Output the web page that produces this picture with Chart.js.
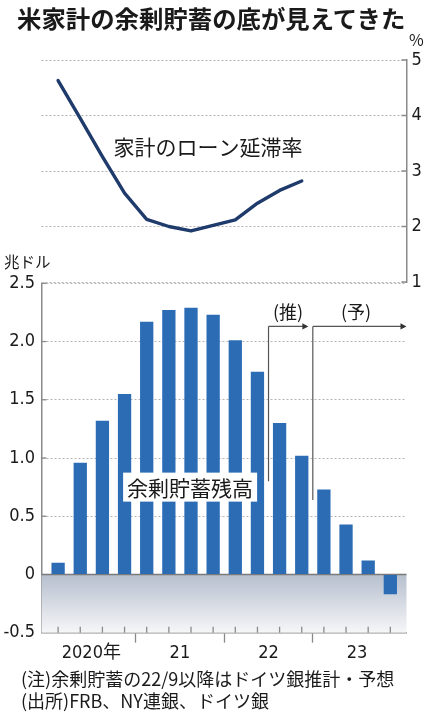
<!DOCTYPE html>
<html><head><meta charset="utf-8">
<script src="https://cdn.jsdelivr.net/npm/chart.js@4.4.0/dist/chart.umd.min.js"></script>
<style>
html,body{margin:0;padding:0;background:#fff;}
body{width:430px;height:720px;position:relative;overflow:hidden;font-family:'Noto Sans CJK JP',sans-serif;color:#1a1a1a;}
canvas{position:absolute;left:0;top:0;}
.t{position:absolute;white-space:nowrap;}
</style></head><body>
<canvas id="cb" width="430" height="720"></canvas>
<canvas id="ct" width="430" height="300"></canvas>
<div class="t" style="left:17px;top:4px;font-size:24.4px;font-weight:bold;line-height:28px;">米家計の余剰貯蓄の底が見えてきた</div>
<div class="t" style="left:409px;top:29px;font-size:16px;line-height:20px;">%</div>
<div class="t" style="left:4px;top:251px;font-size:15.5px;line-height:20px;">兆ドル</div>
<div class="t" style="left:21px;top:667px;font-size:18px;line-height:22px;">(注)余剰貯蓄の22/9以降はドイツ銀推計・予想<br>(出所)FRB、NY連銀、ドイツ銀</div>
<script>
// ---- data ----
const quarters = ['2020Q1','2020Q2','2020Q3','2020Q4','2021Q1','2021Q2','2021Q3','2021Q4','2022Q1','2022Q2','2022Q3','2022Q4','2023Q1','2023Q2','2023Q3','2023Q4'];
const excessSavings = [0.10, 0.96, 1.32, 1.55, 2.17, 2.27, 2.29, 2.23, 2.01, 1.74, 1.30, 1.02, 0.73, 0.43, 0.12, -0.17]; // 兆ドル
const delinquencyRate = [4.63, 3.95, 3.26, 2.60, 2.13, 2.00, 1.92, 2.02, 2.12, 2.42, 2.65, 2.82]; // %
const yearLabels = ['2020年','21','22','23'];
const yearLabelPos = [1.5, 5.5, 9.5, 13.5];
const yearBoundaryPos = [3.5, 7.5, 11.5];
const savingsTicks = [-0.5, 0, 0.5, 1.0, 1.5, 2.0, 2.5];
const rateTicks = [1, 2, 3, 4, 5];
const estimateStart = 9.5;   // 22/9 以降 推計
const forecastStart = 11.5;  // 23年以降 予想

// ---- styles ----
const NUM = "'Liberation Sans Narrow','DejaVu Sans Condensed','Noto Sans CJK JP',sans-serif";
const JP = "'Noto Sans CJK JP',sans-serif";
const TXT = '#1a1a1a';
const AXIS = '#8a8a8a';
const GRID = '#b4b4b4';
const xMin = -0.75, xMax = 15.73;

// ---- top chart: loan delinquency rate ----
const topPlugin = {
  id: 'topDeco',
  afterDatasetsDraw(chart) {
    const {ctx, chartArea: a, scales: {x, y}} = chart;
    ctx.save();
    ctx.strokeStyle = AXIS; ctx.lineWidth = 1.5;
    rateTicks.forEach(v => {
      const py = y.getPixelForValue(v);
      ctx.beginPath(); ctx.moveTo(a.right - 5, py); ctx.lineTo(a.right, py); ctx.stroke();
    });
    ctx.fillStyle = TXT;
    ctx.font = "21px " + JP;
    ctx.textAlign = 'center'; ctx.textBaseline = 'middle';
    ctx.fillText('家計のローン延滞率', x.getPixelForValue(6.77), y.getPixelForValue(3.44));
    ctx.restore();
  }
};
new Chart(document.getElementById('ct'), {
  type: 'line',
  data: { datasets: [{
    data: delinquencyRate.map((v, i) => ({x: i, y: v})),
    borderColor: '#1f3b6b', borderWidth: 3.4, pointRadius: 0, tension: 0,
    borderCapStyle: 'round', borderJoinStyle: 'round', fill: false
  }]},
  options: {
    responsive: false, animation: false, events: [],
    plugins: {legend: {display: false}, tooltip: {enabled: false}},
    layout: {padding: {left: 41.5, right: 0, top: 60, bottom: 18}},
    scales: {
      x: {type: 'linear', min: xMin, max: xMax, offset: false, display: false},
      y: {
        position: 'right', min: 1, max: 5,
        afterFit: s => { s.width = 23.5; },
        afterBuildTicks: s => { s.ticks = rateTicks.map(v => ({value: v})); },
        ticks: {font: {family: NUM, size: 18}, color: TXT, padding: 5},
        grid: {color: GRID, lineWidth: 1, drawTicks: false},
        border: {display: true, color: AXIS, width: 1.5, dash: [2, 2]}
      }
    }
  },
  plugins: [topPlugin]
});

// ---- bottom chart: excess savings ----
function arrowRight(ctx, x1, x2, y) {
  ctx.beginPath(); ctx.moveTo(x1, y); ctx.lineTo(x2 - 4, y); ctx.stroke();
  ctx.beginPath(); ctx.moveTo(x2, y); ctx.lineTo(x2 - 6, y - 3.2); ctx.lineTo(x2 - 6, y + 3.2); ctx.closePath(); ctx.fill();
}
const bottomPlugin = {
  id: 'bottomDeco',
  beforeDatasetsDraw(chart) {
    const {ctx, chartArea: a, scales: {y}} = chart;
    const y0 = y.getPixelForValue(0);
    ctx.save();
    const g = ctx.createLinearGradient(0, y0, 0, a.bottom);
    g.addColorStop(0, '#b6bfce');
    g.addColorStop(1, '#f6f6f8');
    ctx.fillStyle = g;
    ctx.fillRect(a.left, y0, a.right - a.left, a.bottom - y0);
    ctx.strokeStyle = '#7a7a7a'; ctx.lineWidth = 1.5;
    ctx.beginPath(); ctx.moveTo(a.left, y0); ctx.lineTo(a.right, y0); ctx.stroke();
    ctx.restore();
  },
  afterDatasetsDraw(chart) {
    const {ctx, chartArea: a, scales: {x, y}} = chart;
    ctx.save();
    // inner ticks
    ctx.strokeStyle = AXIS; ctx.lineWidth = 1.3;
    excessSavings.forEach((v, i) => {
      const px = x.getPixelForValue(i);
      ctx.beginPath(); ctx.moveTo(px, a.bottom - 6); ctx.lineTo(px, a.bottom); ctx.stroke();
    });
    savingsTicks.filter(v => v > 0).forEach(v => {
      const py = y.getPixelForValue(v);
      ctx.beginPath(); ctx.moveTo(a.left, py); ctx.lineTo(a.left + 5, py); ctx.stroke();
    });
    // estimate / forecast markers
    ctx.strokeStyle = '#555'; ctx.fillStyle = '#333'; ctx.lineWidth = 1.2;
    const yArrow = y.getPixelForValue(2.13);
    const xe = x.getPixelForValue(estimateStart), xf = x.getPixelForValue(forecastStart);
    ctx.beginPath(); ctx.moveTo(xe, yArrow); ctx.lineTo(xe, y.getPixelForValue(0.80)); ctx.stroke();
    ctx.beginPath(); ctx.moveTo(xf, yArrow); ctx.lineTo(xf, y.getPixelForValue(0.64)); ctx.stroke();
    arrowRight(ctx, xe, x.getPixelForValue(11.3), yArrow);
    arrowRight(ctx, xf, a.right, yArrow);
    ctx.fillStyle = TXT;
    ctx.font = "18px " + JP;
    ctx.textAlign = 'center'; ctx.textBaseline = 'middle';
    ctx.fillText('(推)', x.getPixelForValue(10.38), y.getPixelForValue(2.25));
    ctx.fillText('(予)', x.getPixelForValue(13.45), y.getPixelForValue(2.25));
    // series label with white box
    const lx = x.getPixelForValue(5.96), ly = y.getPixelForValue(0.75);
    ctx.font = "21px " + JP;
    const w = ctx.measureText('余剰貯蓄残高').width + 8;
    ctx.fillStyle = '#fff';
    ctx.fillRect(lx - w / 2, ly - 14.5, w, 29);
    ctx.fillStyle = TXT;
    ctx.fillText('余剰貯蓄残高', lx, ly + 1);
    ctx.restore();
  }
};
new Chart(document.getElementById('cb'), {
  type: 'bar',
  data: { datasets: [{
    data: excessSavings.map((v, i) => ({x: i, y: v})),
    backgroundColor: '#2b6cb5', borderWidth: 0,
    barPercentage: 0.6, categoryPercentage: 1.0
  }]},
  options: {
    responsive: false, animation: false, events: [],
    plugins: {legend: {display: false}, tooltip: {enabled: false}},
    layout: {padding: {left: 0, right: 23.5, top: 283.3, bottom: 57.3}},
    scales: {
      x: {
        type: 'linear', min: xMin, max: xMax, offset: false,
        afterFit: s => { s.height = 30; },
        afterBuildTicks: s => { s.ticks = yearLabelPos.concat(yearBoundaryPos).sort((a, b) => a - b).map(v => ({value: v})); },
        ticks: {
          autoSkip: false, maxRotation: 0, padding: 0,
          font: {family: NUM, size: 18}, color: TXT,
          callback: v => { const k = yearLabelPos.indexOf(v); return k >= 0 ? yearLabels[k] : ''; }
        },
        grid: {
          offset: false,
          drawOnChartArea: false, drawTicks: true, tickLength: 10, tickWidth: 1.3,
          tickColor: c => (c.tick && yearBoundaryPos.includes(c.tick.value)) ? AXIS : 'rgba(0,0,0,0)'
        },
        border: {display: true, color: AXIS, width: 1.5}
      },
      y: {
        min: -0.5, max: 2.5,
        afterFit: s => { s.width = 41.5; },
        afterBuildTicks: s => { s.ticks = savingsTicks.map(v => ({value: v})); },
        ticks: {
          font: {family: NUM, size: 18}, color: TXT, padding: 6.5,
          callback: v => v === 0 ? '0' : v.toFixed(1)
        },
        grid: {
          drawTicks: false, lineWidth: 1,
          color: c => (c.tick && c.tick.value > 0) ? GRID : 'rgba(0,0,0,0)'
        },
        border: {display: true, color: AXIS, width: 1.5, dash: [2, 2]}
      }
    }
  },
  plugins: [bottomPlugin]
});
</script>
</body></html>
